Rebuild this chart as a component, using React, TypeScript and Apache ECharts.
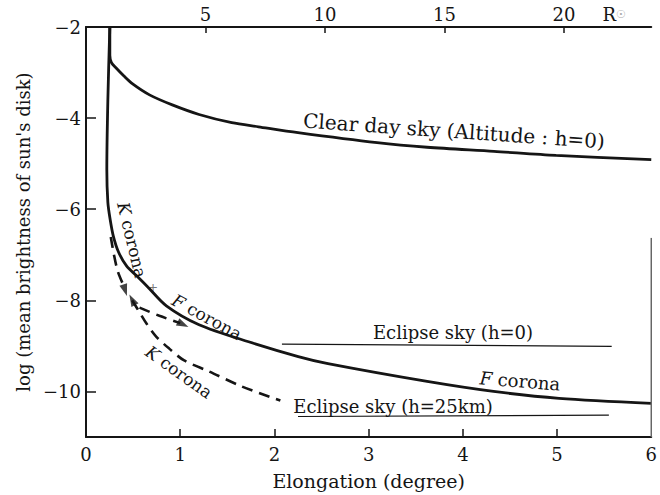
import React, { useEffect, useRef } from "react";
import * as echarts from "echarts";

// ---- data ----
const xTickValues = [1, 2, 3, 4, 5];
const xLabelValues = [0, 1, 2, 3, 4, 5, 6];
const yLabelValues = [-10, -8, -6, -4, -2];
const yTickValues = [-10, -8, -6, -4];
const rTickValues = [5, 10, 15, 20];
const rUnitPos = 22.1;

const clearDaySky = [
  [0.253, -2.0], [0.253, -2.62], [0.27, -2.78], [0.32, -2.9], [0.4, -3.07], [0.495, -3.25],
  [0.674, -3.49], [0.916, -3.71], [1.2, -3.92], [1.547, -4.1], [1.83, -4.19],
  [2.25, -4.32], [3.09, -4.54], [3.62, -4.64], [4.33, -4.73], [4.99, -4.82], [6.0, -4.91],
];

const kPlusFCorona = [
  [0.253, -2.0], [0.232, -3.6], [0.221, -5.13], [0.232, -5.85], [0.256, -6.22],
  [0.29, -6.59], [0.345, -6.94], [0.432, -7.25], [0.537, -7.46], [0.653, -7.7],
  [0.853, -8.12], [1.2, -8.535], [1.726, -8.91], [2.253, -9.235], [2.568, -9.39],
  [3.621, -9.78], [4.326, -10.0], [5.021, -10.15], [6.0, -10.26],
];

const kCoronaUpper = [
  [0.263, -6.61], [0.295, -6.98], [0.337, -7.36], [0.4, -7.68],
];

const kCorona = [
  [0.49, -8.0], [0.547, -8.19], [0.642, -8.51], [0.747, -8.8], [0.884, -9.06],
  [1.042, -9.32], [1.305, -9.56], [1.653, -9.89], [2.063, -10.2],
];

const kDifference = [
  [0.568, -8.16], [0.779, -8.34], [1.0, -8.5],
];

const eclipseSkyH0 = [[2.08, -8.96], [5.58, -9.01]];
const eclipseSkyH25 = [[2.25, -10.55], [5.55, -10.52]];
const arrowHeads = [
  [0.415, -7.78, 198],
  [0.49, -7.99, 28],
  [1.03, -8.53, 244],
];
const rightFrame = [[6, -6.63], [6, -11]];

const FONT = "DejaVu Serif";
const INK = "#151515";

export default function App() {
  const ref = useRef<HTMLDivElement>(null);

  useEffect(() => {
    const chart = echarts.init(ref.current!, null, { renderer: "svg" });

    const solid = (name: string, data: number[][], width = 2.8) => ({
      name,
      type: "line",
      data,
      symbol: "none",
      smooth: 0.3,
      lineStyle: { color: INK, width },
      silent: true,
    });
    const dashed = (name: string, data: number[][]) => ({
      name,
      type: "line",
      data,
      symbol: "none",
      smooth: 0.3,
      lineStyle: { color: INK, width: 2.6, type: [11, 7] },
      silent: true,
    });
    const minus = (v: number) => String(v).replace("-", "\u2212");
    const txt = { fontFamily: FONT, color: INK, fontWeight: "normal" as const };

    const option: any = {
      animation: false,
      backgroundColor: "#fff",
      textStyle: { fontFamily: FONT, color: INK },
      grid: { left: 86, top: 27, right: 4, bottom: 57, containLabel: false },
      xAxis: [
        {
          type: "value",
          min: 0,
          max: 6,
          interval: 1,
          position: "bottom",
          axisLine: { show: true, lineStyle: { color: INK, width: 2 } },
          axisTick: { show: true, inside: true, length: 8, customValues: xTickValues, lineStyle: { color: INK, width: 1.5 } },
          axisLabel: { ...txt, customValues: xLabelValues, margin: 8, fontSize: 18 },
          splitLine: { show: false },
          name: "Elongation (degree)",
          nameLocation: "middle",
          nameGap: 34,
          nameTextStyle: { ...txt, fontSize: 19 },
        },
        {
          type: "value",
          min: 0,
          max: 23.65,
          position: "top",
          axisLine: { show: true, lineStyle: { color: INK, width: 2 } },
          axisTick: { show: true, inside: true, length: 6, customValues: rTickValues, lineStyle: { color: INK, width: 1.5 } },
          axisLabel: {
            ...txt,
            customValues: [...rTickValues, rUnitPos],
            margin: 4,
            fontSize: 18,
            formatter: (v: number) => (Math.abs(v - rUnitPos) < 0.01 ? "{r|R}{s|☉}" : String(v)),
            rich: {
              r: { fontFamily: FONT, fontSize: 18, color: INK },
              s: { fontFamily: FONT, fontSize: 11, color: "#aaa" },
            },
          },
          splitLine: { show: false },
        },
      ],
      yAxis: {
        type: "value",
        min: -11,
        max: -2,
        axisLine: { show: true, lineStyle: { color: INK, width: 2 } },
        axisTick: { show: true, inside: true, length: 10, customValues: yTickValues, lineStyle: { color: INK, width: 1.5 } },
        axisLabel: { ...txt, customValues: yLabelValues, margin: 5, fontSize: 18, formatter: minus },
        splitLine: { show: false },
        name: "log (mean brightness of sun's disk)",
        nameLocation: "middle",
        nameGap: 54,
        nameTextStyle: { ...txt, fontSize: 18 },
      },
      series: [
        solid("Clear day sky", clearDaySky),
        solid("K corona + F corona", kPlusFCorona),
        dashed("K corona (upper)", kCoronaUpper),
        dashed("K corona", kCorona),
        dashed("K difference", kDifference),
        {
          name: "Eclipse sky (h=0)",
          type: "line",
          data: eclipseSkyH0,
          symbol: "none",
          lineStyle: { color: INK, width: 1.2 },
          silent: true,
        },
        {
          name: "Eclipse sky (h=25km)",
          type: "line",
          data: eclipseSkyH25,
          symbol: "none",
          lineStyle: { color: INK, width: 1.2 },
          silent: true,
        },
        {
          name: "frame",
          type: "line",
          data: rightFrame,
          symbol: "none",
          clip: false,
          lineStyle: { color: "#666", width: 1.5 },
          silent: true,
        },
        {
          name: "arrows",
          type: "scatter",
          symbol: "triangle",
          symbolSize: [8, 12],
          itemStyle: { color: INK },
          data: arrowHeads.map((a) => ({ value: [a[0], a[1]], symbolRotate: a[2] })),
          silent: true,
        },
      ],
      graphic: [
        {
          type: "text",
          x: 454,
          y: 131,
          rotation: -0.069,
          style: { text: "Clear day sky (Altitude : h=0)", fontFamily: FONT, fontSize: 20, fill: INK, align: "center", verticalAlign: "middle" },
        },
        {
          type: "text",
          x: 453,
          y: 332,
          style: { text: "Eclipse sky (h=0)", fontFamily: FONT, fontSize: 18, fill: INK, align: "center", verticalAlign: "middle" },
        },
        {
          type: "text",
          x: 393,
          y: 406,
          style: { text: "Eclipse sky (h=25km)", fontFamily: FONT, fontSize: 18, fill: INK, align: "center", verticalAlign: "middle" },
        },
        {
          type: "text",
          x: 520,
          y: 381,
          rotation: -0.08,
          style: {
            text: "{i|F} corona",
            fontFamily: FONT,
            fontSize: 18,
            fill: INK,
            align: "center",
            verticalAlign: "middle",
            rich: { i: { fontFamily: FONT, fontSize: 18, fontStyle: "italic", fill: INK } },
          },
        },
        {
          type: "text",
          x: 132,
          y: 240,
          rotation: -1.335,
          style: {
            text: "{i|K} corona",
            fontFamily: FONT,
            fontSize: 17,
            fill: INK,
            align: "center",
            verticalAlign: "middle",
            rich: { i: { fontFamily: FONT, fontSize: 17, fontStyle: "italic", fill: INK } },
          },
        },
        {
          type: "text",
          x: 153,
          y: 288,
          style: { text: "+", fontFamily: FONT, fontSize: 12, fill: "#777", align: "center", verticalAlign: "middle" },
        },
        {
          type: "text",
          x: 207,
          y: 317,
          rotation: -0.5,
          style: {
            text: "{i|F} corona",
            fontFamily: FONT,
            fontSize: 17,
            fill: INK,
            align: "center",
            verticalAlign: "middle",
            rich: { i: { fontFamily: FONT, fontSize: 17, fontStyle: "italic", fill: INK } },
          },
        },
        {
          type: "text",
          x: 179,
          y: 372,
          rotation: -0.62,
          style: {
            text: "{i|K} corona",
            fontFamily: FONT,
            fontSize: 17,
            fill: INK,
            align: "center",
            verticalAlign: "middle",
            rich: { i: { fontFamily: FONT, fontSize: 17, fontStyle: "italic", fill: INK } },
          },
        },
      ],
    };

    chart.setOption(option);
    return () => chart.dispose();
  }, []);

  return (
    <div
      ref={ref}
      style={{ position: "fixed", left: 0, top: 0, width: 660, height: 495, background: "#fff" }}
    />
  );
}
